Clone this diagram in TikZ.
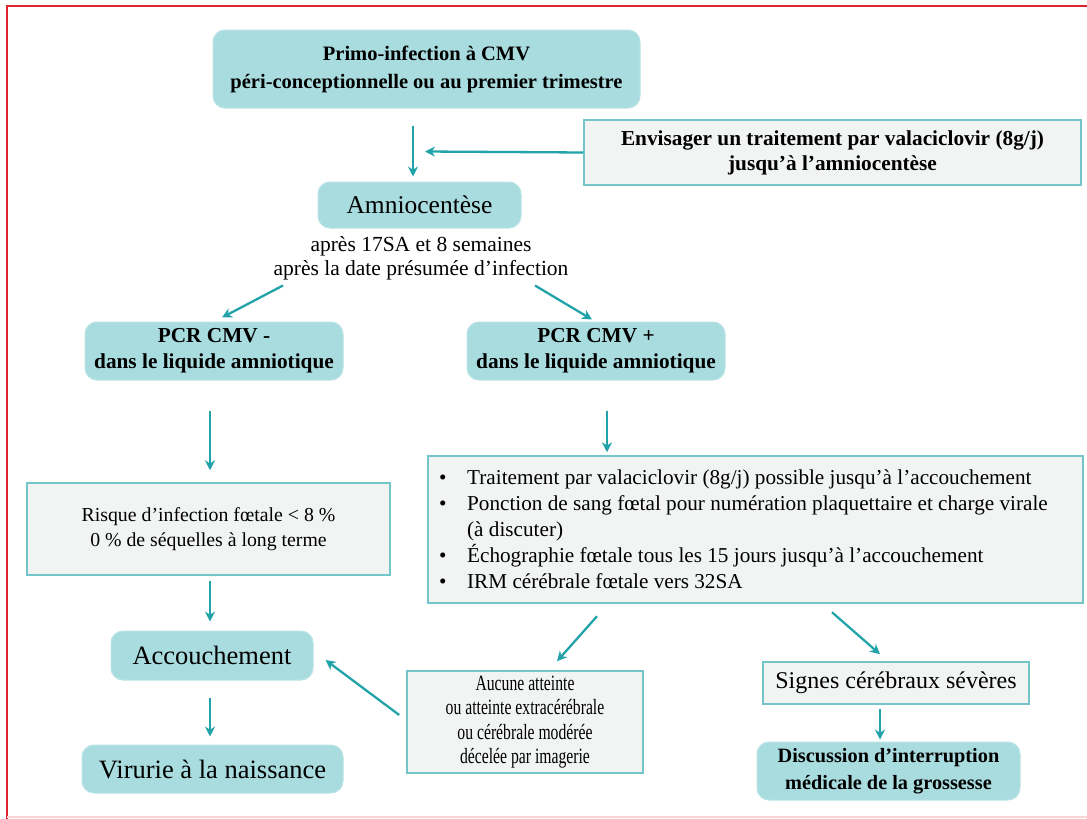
\documentclass[tikz,border=0pt]{standalone}
\usepackage{fontspec}
\setmainfont{Liberation Serif}
\newfontfamily\condfont{Liberation Serif}[FakeStretch=0.72]
\usetikzlibrary{arrows.meta,calc}
\definecolor{tealfill}{HTML}{A9DCDF}
\definecolor{tealedge}{HTML}{B9E3E5}
\definecolor{tealline}{HTML}{21A3A9}
\definecolor{boxfill}{HTML}{F2F4F4}
\definecolor{boxline}{HTML}{74C5CA}
\definecolor{framered}{HTML}{E0242F}
\tikzset{
  rbox/.style={rounded corners=12pt, fill=tealfill, draw=tealedge, line width=1pt, inner sep=0pt, align=center, text=black},
  gbox/.style={fill=boxfill, draw=boxline, line width=1.5pt, inner sep=0pt, align=center, text=black},
  arr/.style={draw=tealline, line width=2.3pt, -{Stealth[length=10pt,width=10pt]}},
  plain/.style={inner sep=0pt, align=center, text=black}
}
\begin{document}
\begin{tikzpicture}[x=1pt,y=-1pt]
\useasboundingbox (0,0) rectangle (1087,819);
% frame
\draw[framered, line width=2pt] (1090,6) -- (7,6) -- (7,822);
\draw[framered!20, line width=1.5pt] (7,817) -- (1090,817);

\node[rbox, minimum width=427pt, minimum height=78pt, font=\fontsize{20.5}{28}\selectfont\bfseries] (top) at (426.5,69)
  {Primo-infection à CMV\\péri-conceptionnelle ou au premier trimestre};
\node[gbox, minimum width=497pt, minimum height=65pt, font=\fontsize{21.3}{25}\selectfont\bfseries] (env) at (832.5,152.5)
  {Envisager un traitement par valaciclovir (8g/j)\\jusqu’à l’amniocentèse};
\node[rbox, minimum width=203pt, minimum height=46pt, font=\fontsize{25.5}{30}\selectfont] (amnio) at (419.5,205) {Amniocentèse};
\node[plain, font=\fontsize{21.5}{24}\selectfont] (apres) at (421,258)
  {après 17SA et 8 semaines\\après la date présumée d’infection};
\node[rbox, minimum width=258pt, minimum height=58pt, font=\fontsize{21.3}{26}\selectfont\bfseries] (pcrm) at (214,351)
  {PCR CMV -\\dans le liquide amniotique};
\node[rbox, minimum width=258pt, minimum height=58pt, font=\fontsize{21.3}{26}\selectfont\bfseries] (pcrp) at (596,351)
  {PCR CMV +\\dans le liquide amniotique};
\node[gbox, minimum width=363pt, minimum height=92pt, font=\fontsize{19.8}{25}\selectfont] (risque) at (208.5,529)
  {\raisebox{-4pt}{\begin{tabular}{@{}c@{}}Risque d’infection fœtale < 8 \%\\0 \% de séquelles à long terme\end{tabular}}};
\node[gbox, minimum width=655pt, minimum height=147pt, align=left, font=\fontsize{21.2}{26}\selectfont] (bullets) at (755.5,529.5)
  {\makebox[28pt][l]{•}Traitement par valaciclovir (8g/j) possible jusqu’à l’accouchement\\
   \makebox[28pt][l]{•}Ponction de sang fœtal pour numération plaquettaire et charge virale\rule{24pt}{0pt}\\
   \hspace*{28pt}(à discuter)\\
   \makebox[28pt][l]{•}Échographie fœtale tous les 15 jours jusqu’à l’accouchement\\
   \makebox[28pt][l]{•}IRM cérébrale fœtale vers 32SA};
\node[rbox, minimum width=202pt, minimum height=49pt, font=\fontsize{26.5}{30}\selectfont] (acc) at (212,655.5) {Accouchement};
\node[rbox, minimum width=261pt, minimum height=48pt, font=\fontsize{26.5}{30}\selectfont] (vir) at (212.5,769) {Virurie à la naissance};
\node[gbox, minimum width=236pt, minimum height=102pt, font=\fontsize{21.8}{24.5}\selectfont\condfont] (auc) at (525,722)
  {Aucune atteinte\\ou atteinte extracérébrale\\ou cérébrale modérée\\décelée par imagerie};
\node[gbox, minimum width=266pt, minimum height=42pt, font=\fontsize{24}{28}\selectfont] (sig) at (896,683) {Signes cérébraux sévères};
\node[rbox, minimum width=263pt, minimum height=58pt, font=\fontsize{20.3}{27}\selectfont\bfseries] (disc) at (888.5,771)
  {Discussion d’interruption\\médicale de la grossesse};

% connectors
\draw[arr] ($(top.south)+(-13.5,17)$) -- ($(amnio.north)+(-6.5,-5)$);
\draw[arr] (env.west) -- ($(amnio.north)+(5.5,-30)$);
\draw[arr] ($(amnio.south)+(-136.5,57)$) -- ($(pcrm.north)+(8,-4)$);
\draw[arr] ($(amnio.south)+(115.5,57)$) -- ($(pcrp.north)+(-4,-2)$);
\draw[arr] ($(pcrm.south)+(-4,30)$) -- ($(risque.north)+(1.5,-12)$);
\draw[arr] ($(pcrp.south)+(11,30)$) -- ($(pcrp.south |- bullets.north)+(11,-3)$);
\draw[arr] ($(risque.south)+(1.5,5)$) -- ($(acc.north)+(-2,-9)$);
\draw[arr] ($(acc.south)+(-2,17)$) -- ($(vir.north)+(-2.5,-8)$);
\draw[arr] ($(auc.west)+(-7,-7)$) -- ($(acc.east)+(12,4.5)$);
\draw[arr] ($(auc.north)+(72,-54)$) -- ($(auc.north)+(32,-9)$);
\draw[arr] ($(sig.north)+(-64,-49)$) -- ($(sig.north)+(-16,-7)$);
\draw[arr] ($(sig.south)+(-16,4)$) -- ($(disc.north)+(-8.5,-2)$);
\end{tikzpicture}
\end{document}
